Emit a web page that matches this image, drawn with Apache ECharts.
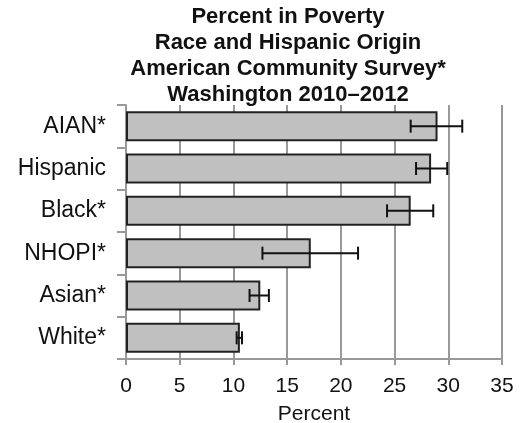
<!DOCTYPE html>
<html>
<head>
<meta charset="utf-8">
<script src="https://cdn.jsdelivr.net/npm/echarts@6/dist/echarts.min.js"></script>
<style>
  html, body { margin: 0; padding: 0; background: #fff; }
  #chart { width: 521px; height: 423px; }
</style>
</head>
<body>
<div id="chart"></div>
<script>
// bottom to top, as drawn on the category axis
const categories = ['White*', 'Asian*', 'NHOPI*', 'Black*', 'Hispanic', 'AIAN*'];
const percent = [10.6, 12.5, 17.2, 26.5, 28.4, 29.0];
const errLow = [10.3, 11.5, 12.7, 24.3, 27.0, 26.5];
const errHigh = [10.8, 13.3, 21.6, 28.6, 29.9, 31.3];
const xTicks = [0, 5, 10, 15, 20, 25, 30, 35];

const errData = categories.map((c, i) => [i, errLow[i], errHigh[i]]);
const font = 'Liberation Sans, Arial, sans-serif';

const myChart = echarts.init(document.getElementById('chart'));
const option = {
  backgroundColor: '#fff',
  animation: false,
  title: {
    text: 'Percent in Poverty\nRace and Hispanic Origin\nAmerican Community Survey*\nWashington 2010\u20132012',
    left: 283,
    top: -1,
    textAlign: 'center',
    textStyle: {
      fontFamily: font,
      fontSize: 22,
      fontWeight: 'bold',
      color: '#111',
      lineHeight: 26,
    },
  },
  grid: {
    left: 126,
    right: 19,
    top: 105,
    bottom: 64,
    containLabel: false,
    outerBoundsMode: 'none',
  },
  xAxis: {
    type: 'value',
    min: xTicks[0],
    max: xTicks[xTicks.length - 1],
    interval: 5,
    name: 'Percent',
    nameLocation: 'middle',
    nameGap: 45,
    nameTextStyle: { fontFamily: font, fontSize: 21, color: '#111' },
    axisLine: { show: true, lineStyle: { color: '#999', width: 2 } },
    axisTick: { show: true, length: 6, lineStyle: { color: '#999', width: 2 } },
    axisLabel: { fontFamily: font, fontSize: 21, color: '#111', margin: 17 },
    splitLine: { show: true, lineStyle: { color: '#999', width: 2 } },
  },
  yAxis: {
    type: 'category',
    data: categories,
    axisLine: { show: true, lineStyle: { color: '#999', width: 2 } },
    axisTick: { show: true, length: 9, lineStyle: { color: '#999', width: 2 } },
    axisLabel: { fontFamily: font, fontSize: 23, color: '#111', margin: 20 },
  },
  series: [
    {
      type: 'bar',
      data: percent,
      barCategoryGap: '29%',
      itemStyle: { color: '#c0c0c0', borderColor: '#222', borderWidth: 2 },
    },
    {
      type: 'custom',
      data: errData,
      z: 10,
      encode: { y: 0, x: [1, 2] },
      renderItem(params, api) {
        const cat = api.value(0);
        const lo = api.coord([api.value(1), cat]);
        const hi = api.coord([api.value(2), cat]);
        const cap = 6.5;
        const style = { stroke: '#111', lineWidth: 2 };
        return {
          type: 'group',
          children: [
            { type: 'line', shape: { x1: lo[0], y1: lo[1], x2: hi[0], y2: hi[1] }, style },
            { type: 'line', shape: { x1: lo[0], y1: lo[1] - cap, x2: lo[0], y2: lo[1] + cap }, style },
            { type: 'line', shape: { x1: hi[0], y1: hi[1] - cap, x2: hi[0], y2: hi[1] + cap }, style },
          ],
        };
      },
    },
  ],
};
myChart.setOption(option);
</script>
</body>
</html>
